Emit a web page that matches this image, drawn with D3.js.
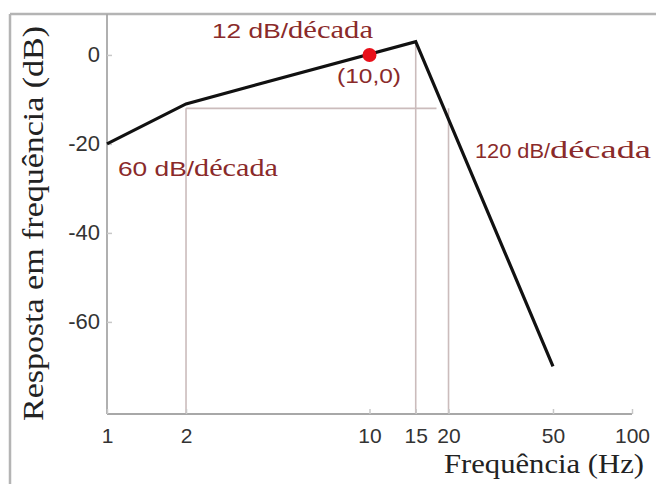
<!DOCTYPE html>
<html><head><meta charset="utf-8">
<script src="https://cdn.jsdelivr.net/npm/d3@7"></script>
<style>html,body{margin:0;padding:0;background:#fff;}svg{display:block;}</style>
</head><body>
<script>
// Data
const freqs = [1, 2, 15, 50];
const gains = [-20, -11, 3, -70];
const xTicks = [1, 2, 10, 15, 20, 50, 100];
const yTicks = [0, -20, -40, -60];
const markerPoint = [10, 0];
const refLevel = -12;
const refFreqs = [2, 15, 20];
const refHorizEnd = 18;
const slopeLabels = ["12 dB/", "60 dB/", "120 dB/"];
const slopeUnit = "década";

const W = 656, H = 484;
const svg = d3.select("body").append("svg").attr("width", W).attr("height", H);

const x = d3.scaleLog().domain([1, 100]).range([107, 632]);
const y = d3.scaleLinear().domain([-80.7, 9.2]).range([414, 14]);

const sans = "'Liberation Sans', Arial, sans-serif";
const serif = "'Liberation Serif', 'Times New Roman', serif";
const red = "#8a2a2a";
const fmt = d => String(d);

// Frame
svg.append("line").attr("x1", 10).attr("x2", W).attr("y1", 14).attr("y2", 14)
  .attr("stroke", "#b4b4b4").attr("stroke-width", 2.5);
svg.append("line").attr("x1", 10).attr("x2", 10).attr("y1", 14).attr("y2", H)
  .attr("stroke", "#b4b4b4").attr("stroke-width", 2.5);

// Reference lines
const refColor = "#cbbcbc";
const refW = 1.6;
svg.append("line").attr("x1", x(2)).attr("x2", x(refHorizEnd)).attr("y1", y(refLevel)).attr("y2", y(refLevel))
  .attr("stroke", refColor).attr("stroke-width", refW);
[[refFreqs[0], refLevel], [refFreqs[1], gains[2]], [refFreqs[2], refLevel]].forEach(([f, top]) => {
  svg.append("line").attr("x1", x(f)).attr("x2", x(f)).attr("y1", y(top)).attr("y2", y(-80.7))
    .attr("stroke", refColor).attr("stroke-width", refW);
});

// Axes
const axColor = "#a8a8a8";
svg.append("line").attr("x1", x(1)).attr("x2", x(1)).attr("y1", 14).attr("y2", 414)
  .attr("stroke", axColor).attr("stroke-width", 1.8);
svg.append("line").attr("x1", x(1)).attr("x2", x(100)).attr("y1", 414).attr("y2", 414)
  .attr("stroke", axColor).attr("stroke-width", 1.8);

const yAxis = d3.axisLeft(y).tickValues(yTicks).tickSize(-5).tickPadding(12).tickFormat(fmt);
const gy = svg.append("g").attr("transform", `translate(${x(1)},0)`).call(yAxis);
gy.select(".domain").remove();
gy.selectAll(".tick line").attr("stroke", "#c8c8c8").attr("stroke-width", 1.5);
gy.selectAll(".tick text").attr("font-family", sans).attr("font-size", 22).attr("fill", "#333")
  .attr("x", -7);

const xAxis = d3.axisBottom(x).tickValues(xTicks).tickSize(-5).tickPadding(14).tickFormat(fmt);
const gx = svg.append("g").attr("transform", `translate(0,414)`).call(xAxis);
gx.select(".domain").remove();
gx.selectAll(".tick line").attr("stroke", "#c8c8c8").attr("stroke-width", 1.5);
gx.selectAll(".tick text").attr("font-family", sans).attr("font-size", 21).attr("fill", "#333");

// Main line
const line = d3.line().x(d => x(d[0])).y(d => y(d[1]));
svg.append("path").datum(freqs.map((f, i) => [f, gains[i]]))
  .attr("d", line).attr("fill", "none").attr("stroke", "#111").attr("stroke-width", 3.2)
  .attr("stroke-linejoin", "miter");

// Marker
svg.append("circle").attr("cx", x(markerPoint[0])).attr("cy", y(markerPoint[1])).attr("r", 7)
  .attr("fill", "#e8101a");

// Annotations
function slopeText(label, x0, xm, x1, base) {
  svg.append("text").attr("x", x0).attr("y", base).text(label)
    .attr("font-family", sans).attr("font-size", 21).attr("fill", red)
    .attr("textLength", xm - x0).attr("lengthAdjust", "spacingAndGlyphs");
  svg.append("text").attr("x", xm).attr("y", base).text(slopeUnit)
    .attr("font-family", serif).attr("font-size", 26).attr("fill", red)
    .attr("textLength", x1 - xm).attr("lengthAdjust", "spacingAndGlyphs");
}
slopeText(slopeLabels[0], 212, 288, 373, 38);
slopeText(slopeLabels[1], 118, 194, 278, 176);
slopeText(slopeLabels[2], 475, 550, 651, 158);

svg.append("text").attr("x", 337).attr("y", 83).text(`(${markerPoint[0]},${markerPoint[1]})`)
  .attr("font-family", sans).attr("font-size", 21).attr("fill", red)
  .attr("textLength", 64).attr("lengthAdjust", "spacingAndGlyphs");

// Axis titles
svg.append("text").attr("transform", "translate(43,421) rotate(-90)").text("Resposta em frequência (dB)")
  .attr("font-family", serif).attr("font-size", 29).attr("fill", "#222")
  .attr("textLength", 395).attr("lengthAdjust", "spacingAndGlyphs");
svg.append("text").attr("x", 444).attr("y", 473).text("Frequência  (Hz)")
  .attr("font-family", serif).attr("font-size", 28).attr("fill", "#222")
  .attr("textLength", 200).attr("lengthAdjust", "spacingAndGlyphs");
</script>
</body></html>
